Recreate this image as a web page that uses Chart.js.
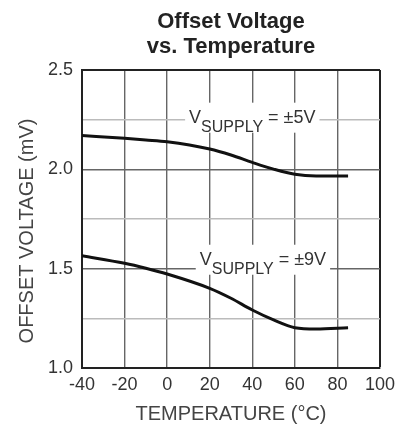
<!DOCTYPE html>
<html>
<head>
<meta charset="utf-8">
<script src="https://cdn.jsdelivr.net/npm/chart.js@4/dist/chart.umd.min.js"></script>
<style>
  body { margin: 0; background: #fff; }
</style>
</head>
<body>
<canvas id="myChart" width="412" height="430"></canvas>
<script>
// temperature (°C) and offset voltage (mV)
const temps = [-40, -20, -10, 0, 20, 30, 40, 50, 60, 70, 85];
const vos5V = [2.17, 2.156, 2.148, 2.139, 2.102, 2.072, 2.035, 2.001, 1.975, 1.967, 1.967];
const vos9V = [1.565, 1.527, 1.502, 1.473, 1.401, 1.351, 1.292, 1.242, 1.203, 1.196, 1.203];
const supplyLabels = ['±5V', '±9V'];

const titleLines = ['Offset Voltage', 'vs. Temperature'];
const yTitle = 'OFFSET VOLTAGE (mV)';
const FONT = '"Liberation Sans", Arial, sans-serif';

// where the curve labels sit, in data units
const labelSpots = [
    { x: 40, y: 2.265 },
    { x: 45, y: 1.55 }
];

function toPoints(ys) {
    return temps.map((t, i) => ({ x: t, y: ys[i] }));
}

// title centred over the plot, y title, and the V_SUPPLY labels
const extras = {
    id: 'extras',
    beforeDatasetsDraw(chart) {
        const ctx = chart.ctx;
        const xs = chart.scales.x;
        const ys = chart.scales.y;
        ctx.save();
        supplyLabels.forEach((s, i) => {
            const cx = xs.getPixelForValue(labelSpots[i].x);
            const cy = ys.getPixelForValue(labelSpots[i].y);
            const big = '18px ' + FONT;
            const small = '16px ' + FONT;
            ctx.font = big;
            const wV = ctx.measureText('V').width;
            const tail = ' = ' + s;
            const wT = ctx.measureText(tail).width;
            ctx.font = small;
            const wS = ctx.measureText('SUPPLY').width;
            const total = wV + wS + wT;
            let x0 = cx - total / 2;
            const base = cy + 6;

            ctx.fillStyle = '#fff';
            ctx.fillRect(x0 - 4, cy - 14, total + 8, 30);

            ctx.fillStyle = '#333';
            ctx.textBaseline = 'alphabetic';
            ctx.textAlign = 'left';
            ctx.font = big;
            ctx.fillText('V', x0, base);
            ctx.font = small;
            ctx.fillText('SUPPLY', x0 + wV, base + 9);
            ctx.font = big;
            ctx.fillText(tail, x0 + wV + wS, base);
        });
        ctx.restore();
    },
    afterDraw(chart) {
        const ctx = chart.ctx;
        const area = chart.chartArea;
        const mid = (area.left + area.right) / 2;
        ctx.save();
        ctx.fillStyle = '#222';
        ctx.font = 'bold 22px ' + FONT;
        ctx.textAlign = 'center';
        ctx.textBaseline = 'alphabetic';
        ctx.fillText(titleLines[0], mid, 28);
        ctx.fillText(titleLines[1], mid, 53);

        // y axis title, sits a bit below the plot middle like the datasheet
        ctx.translate(27, (area.top + area.bottom) / 2 + 12);
        ctx.rotate(-Math.PI / 2);
        ctx.fillStyle = '#444';
        ctx.font = '20px ' + FONT;
        ctx.textBaseline = 'middle';
        ctx.fillText(yTitle, 0, 0);
        ctx.restore();
    }
};

const data = {
    datasets: [{
        label: 'VSUPPLY = ±5V',
        data: toPoints(vos5V),
        borderColor: '#111',
        borderWidth: 3,
        pointRadius: 0,
        cubicInterpolationMode: 'monotone'
    }, {
        label: 'VSUPPLY = ±9V',
        data: toPoints(vos9V),
        borderColor: '#111',
        borderWidth: 3,
        pointRadius: 0,
        cubicInterpolationMode: 'monotone'
    }]
};

const config = {
    type: 'line',
    data: data,
    options: {
        responsive: false,
        animation: false,
        layout: { padding: { top: 70, right: 32, left: 0, bottom: 0 } },
        plugins: {
            legend: { display: false },
            tooltip: { enabled: false }
        },
        scales: {
            x: {
                type: 'linear',
                min: -40,
                max: 100,
                afterFit: s => { s.height = 62; },
                ticks: {
                    stepSize: 20,
                    color: '#333',
                    padding: 6,
                    font: { family: FONT, size: 18 }
                },
                grid: {
                    drawTicks: false,
                    color: c => c.tick && c.tick.value === 100 ? '#222' : '#666',
                    lineWidth: c => c.tick && c.tick.value === 100 ? 2 : 1.4
                },
                border: { color: '#222', width: 2 },
                title: {
                    display: true,
                    text: 'TEMPERATURE (°C)',
                    color: '#444',
                    padding: { top: 0, bottom: 4 },
                    font: { family: FONT, size: 20 }
                }
            },
            y: {
                min: 1,
                max: 2.5,
                afterFit: s => { s.width = 82; },
                ticks: {
                    stepSize: 0.25,
                    autoSkip: false,
                    color: '#333',
                    padding: 9,
                    font: { family: FONT, size: 18 },
                    callback: v => (Math.abs(v * 2 - Math.round(v * 2)) < 1e-6 ? v.toFixed(1) : '')
                },
                grid: {
                    drawTicks: false,
                    color: c => {
                        if (!c.tick) return '#666';
                        if (c.tick.value === 2.5) return '#222';
                        return Math.abs(c.tick.value * 2 - Math.round(c.tick.value * 2)) < 1e-6 ? '#666' : '#bbb';
                    },
                    lineWidth: c => c.tick && c.tick.value === 2.5 ? 2 : 1.4
                },
                border: { color: '#222', width: 2 }
            }
        }
    },
    plugins: [extras]
};

const chart = new Chart(document.getElementById('myChart'), config);
</script>
</body>
</html>
